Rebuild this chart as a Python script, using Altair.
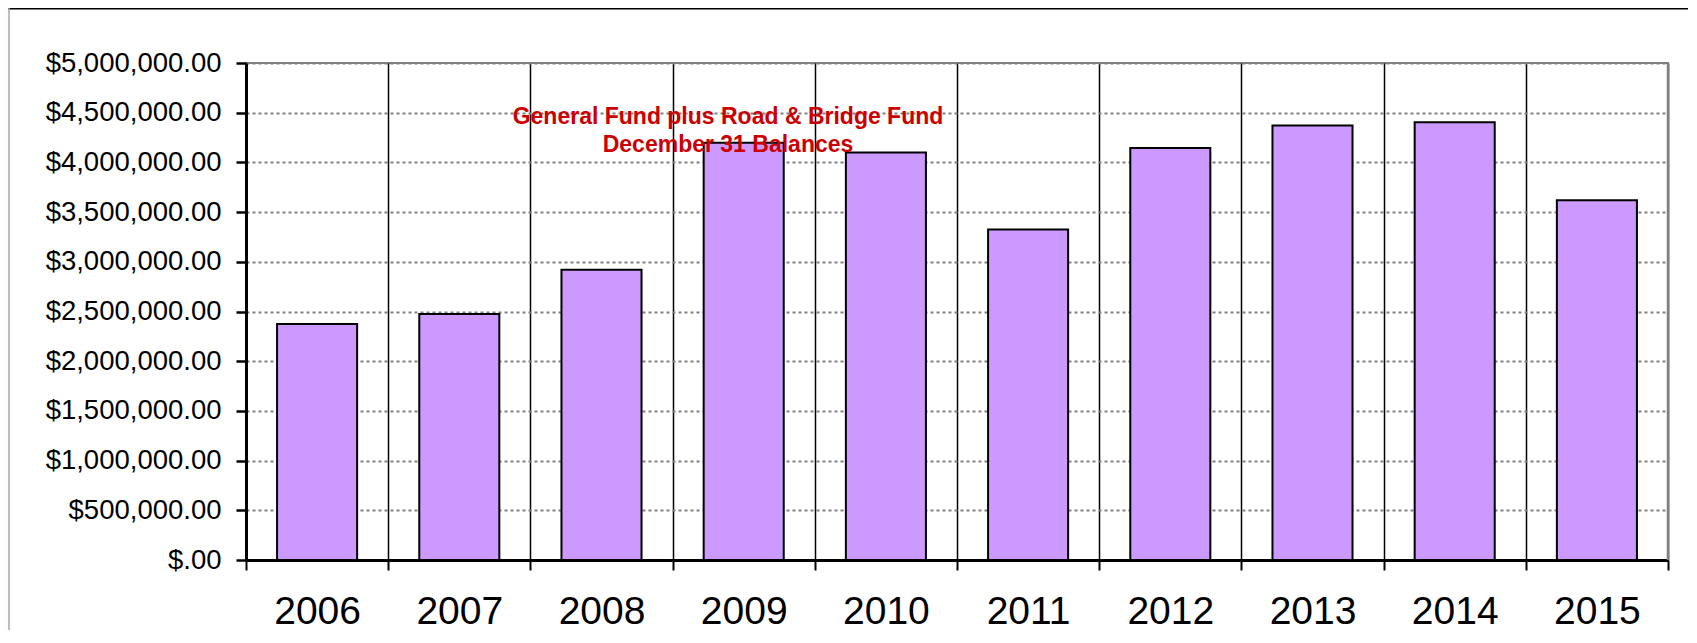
import altair as alt
import pandas as pd

years = ["2006", "2007", "2008", "2009", "2010", "2011", "2012", "2013", "2014", "2015"]
balances = [2375000, 2476000, 2920000, 4198000, 4100000, 3326000, 4144000, 4372000, 4403000, 3620000]
title_lines = ["General Fund plus Road & Bridge Fund", "December 31 Balances"]
y_ticks = [0, 500000, 1000000, 1500000, 2000000, 2500000, 3000000, 3500000, 4000000, 4500000, 5000000]

df = pd.DataFrame({"year": years, "balance": balances})
one = pd.DataFrame({"k": [0]})

W, H = 1422, 497
PL, PT = 238, 55

x_enc = alt.X(
    "year:N",
    sort=years,
    scale=alt.Scale(paddingInner=0, paddingOuter=0),
    axis=alt.Axis(
        title=None,
        labelAngle=0,
        labelFont="Liberation Sans",
        labelFontSize=39,
        labelColor="black",
        labelPadding=22,
        tickBand="extent",
        ticks=True,
        tickColor="black",
        tickSize=10,
        tickWidth=2,
        grid=True,
        gridColor="black",
        gridWidth=1.5,
        domainColor="black",
        domainWidth=3,
    ),
)

y_enc = alt.Y(
    "balance:Q",
    scale=alt.Scale(domain=[0, 5000000], nice=False),
    axis=alt.Axis(
        title=None,
        values=y_ticks,
        labelExpr="datum.value == 0 ? '$.00' : format(datum.value, '$,.2f')",
        labelFont="Liberation Sans",
        labelFontSize=27.5,
        labelColor="black",
        labelPadding=15,
        tickColor="black",
        tickSize=10,
        tickWidth=2.5,
        grid=True,
        gridColor="#808080",
        gridDash=[3, 3],
        gridWidth=1.8,
        domainColor="black",
        domainWidth=3,
    ),
)

bars = alt.Chart(df).mark_bar(
    width=alt.RelativeBandSize(0.563),
    color="#CC99FF",
    stroke="black",
    strokeWidth=2,
).encode(x=x_enc, y=y_enc)

title = alt.Chart(one).mark_text(
    text=title_lines,
    font="Liberation Sans",
    fontSize=23,
    fontWeight="bold",
    color="#CC0000",
    align="center",
    baseline="middle",
    lineHeight=28,
).encode(x=alt.value(482), y=alt.value(54))

right_border = alt.Chart(one).mark_rule(color="#808080", strokeWidth=2.5).encode(
    x=alt.value(W), y=alt.value(0), y2=alt.value(H)
)
top_line = alt.Chart(one).mark_rule(color="black", strokeWidth=3).encode(
    x=alt.value(-PL), x2=alt.value(1697), y=alt.value(-PT),
)
left_line = alt.Chart(one).mark_rule(color="#A0A8B8", strokeWidth=1.5).encode(
    x=alt.value(-PL + 1), y=alt.value(-PT), y2=alt.value(643)
)

chart = alt.layer(bars, right_border, title, top_line, left_line).properties(
    width=W,
    height=H,
    padding={"left": PL, "top": PT, "right": 20, "bottom": 70},
    autosize=alt.AutoSizeParams(type="none"),
).configure_view(stroke="#808080", strokeWidth=2)

chart.save("out.html", embed_options={"renderer": "svg", "actions": False})
